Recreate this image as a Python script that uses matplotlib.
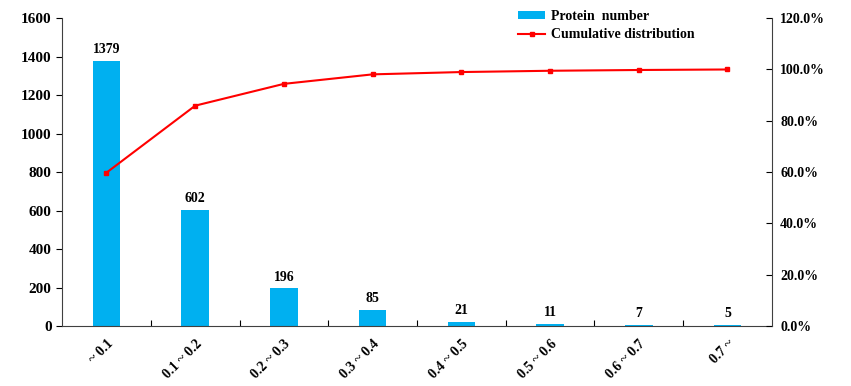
import matplotlib

matplotlib.use("Agg")
import matplotlib.pyplot as plt
import numpy as np

categories = ["~ 0.1", "0.1 ~ 0.2", "0.2 ~ 0.3", "0.3 ~ 0.4", "0.4 ~ 0.5", "0.5 ~ 0.6", "0.6 ~ 0.7", "0.7 ~"]
protein_number = [1379, 602, 196, 85, 21, 11, 7, 5]
cumulative_pct = [59.8, 85.9, 94.4, 98.1, 99.0, 99.5, 99.8, 100.0]

plt.rcParams["font.family"] = ["Liberation Serif", "DejaVu Serif"]
plt.rcParams["font.weight"] = "bold"

fig = plt.figure(figsize=(8.51, 3.86), dpi=100)
ax = fig.add_axes([0.073, 0.155, 0.834, 0.798])
x = np.arange(len(categories))

bars = ax.bar(x, protein_number, width=0.31, color="#00B0F0", label="Protein  number", zorder=2)
for xi, v in zip(x, protein_number):
    ax.text(xi, v + 25, str(v), ha="center", va="bottom", fontsize=10, fontweight="bold")

ax.set_xlim(-0.5, len(categories) - 0.5)
ax.set_ylim(0, 1600)
ax.set_yticks(range(0, 1601, 200))
ax.tick_params(axis="y", labelsize=11, direction="out", length=4, width=0.8)
ax.set_xticks(x)
ax.set_xticklabels(categories, rotation=45, ha="right", rotation_mode="anchor", fontsize=10)
ax.tick_params(axis="x", length=0, pad=8)
ax.set_xticks(np.arange(0.5, len(categories) - 0.5, 1), minor=True)
ax.tick_params(axis="x", which="minor", direction="in", length=4, width=0.8)
ax.spines["top"].set_visible(False)
ax.spines["right"].set_visible(False)
for s in ("left", "bottom"):
    ax.spines[s].set_color("#404040")

ax2 = ax.twinx()
line, = ax2.plot(x, cumulative_pct, color="#FF0000", marker="s", markersize=3.5,
                 linewidth=1.5, label="Cumulative distribution", zorder=3)
ax2.set_ylim(0, 120)
ax2.set_yticks(range(0, 121, 20))
ax2.set_yticklabels([f"{v:.1f}%" for v in range(0, 121, 20)])
ax2.tick_params(axis="y", labelsize=10, direction="in", length=4, width=0.8, pad=6)
ax2.spines["top"].set_visible(False)
ax2.spines["left"].set_visible(False)
ax2.spines["bottom"].set_visible(False)
ax2.spines["right"].set_color("#404040")

ax.legend([bars, line], ["Protein  number", "Cumulative distribution"],
          loc="upper left", bbox_to_anchor=(0.634, 1.045), frameon=False,
          fontsize=10, handlelength=2.0, handleheight=0.5, handletextpad=0.4,
          labelspacing=0.4, borderaxespad=0)

fig.savefig("out.png", dpi=100)
